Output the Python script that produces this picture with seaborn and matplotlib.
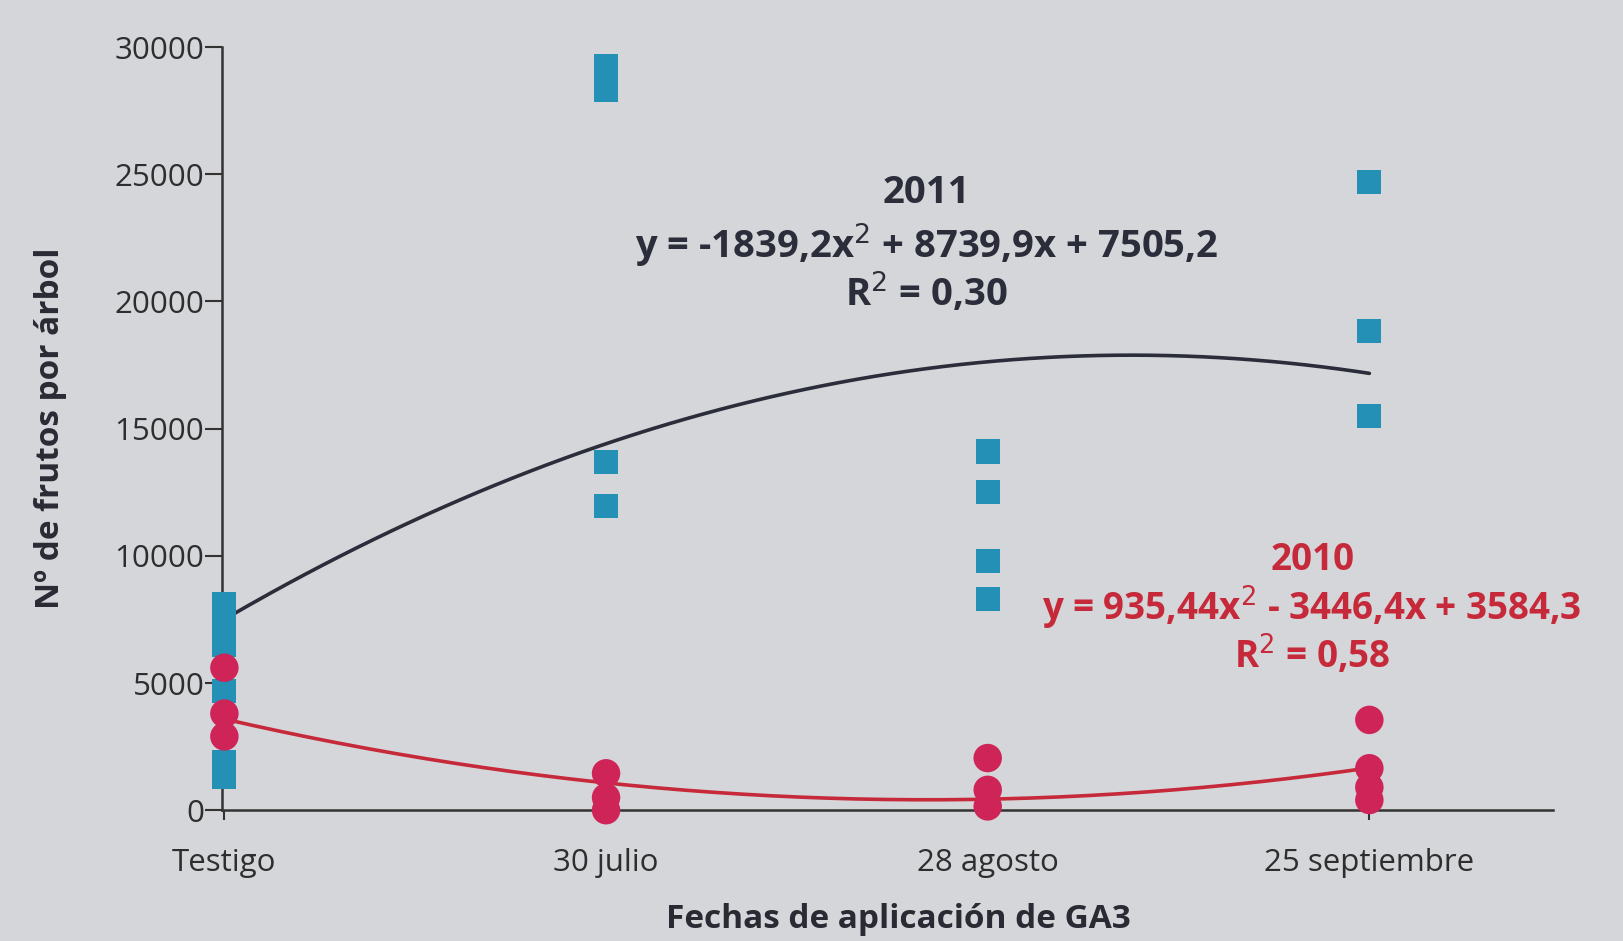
import numpy as np
import pandas as pd
import matplotlib
matplotlib.use("Agg")
import matplotlib.pyplot as plt
import seaborn as sns

# data
fechas = ["Testigo", "30 julio", "28 agosto", "25 septiembre"]

frutos_2011 = {
    "Testigo": [8100, 7300, 6500, 4700, 1900, 1300],
    "30 julio": [29250, 28300, 13700, 11950],
    "28 agosto": [14100, 12500, 9800, 8300],
    "25 septiembre": [24700, 18850, 15500],
}
frutos_2010 = {
    "Testigo": [5600, 3800, 2900],
    "30 julio": [1450, 500, 0],
    "28 agosto": [2050, 800, 150],
    "25 septiembre": [3550, 1650, 900, 400],
}

# trend line coefficients as printed on the chart
coef_2011 = [-1839.2, 8739.9, 7505.2]
coef_2010 = [935.44, -3446.4, 3584.3]
eq_2011 = ["2011", "y = -1839,2x$^2$ + 8739,9x + 7505,2", "R$^2$ = 0,30"]
eq_2010 = ["2010", "y = 935,44x$^2$ - 3446,4x + 3584,3", "R$^2$ = 0,58"]

BG = "#d5d6d9"
AZUL = "#2490b6"
ROSA = "#cf2458"
ROJO = "#c62a3a"
NEGRO = "#2b2e3a"

sns.set_theme(style="ticks")
plt.rcParams["font.family"] = ["Open Sans", "DejaVu Sans"]


def to_long(d, year):
    rows = [(fechas.index(k), v, year) for k, vals in d.items() for v in vals]
    return pd.DataFrame(rows, columns=["x", "frutos", "year"])


pts_2011 = to_long(frutos_2011, "2011")
pts_2010 = to_long(frutos_2010, "2010")

xs = np.linspace(0, 3, 200)
fit = pd.DataFrame({
    "x": np.concatenate([xs, xs]),
    "frutos": np.concatenate([np.polyval(coef_2011, xs), np.polyval(coef_2010, xs)]),
    "year": ["2011"] * len(xs) + ["2010"] * len(xs),
})

fig = plt.figure(figsize=(16.24, 9.41), dpi=100, facecolor=BG)
ax = fig.add_axes([0.137, 0.139, 0.819, 0.811])
ax.set_facecolor(BG)

sns.lineplot(data=fit, x="x", y="frutos", hue="year",
             palette={"2011": NEGRO, "2010": ROJO}, linewidth=2.6,
             legend=False, ax=ax, zorder=2)
sns.scatterplot(data=pts_2011, x="x", y="frutos", marker="s", s=300,
                color=AZUL, edgecolor="none", ax=ax, zorder=3, clip_on=False)
sns.scatterplot(data=pts_2010, x="x", y="frutos", marker="o", s=420,
                color=ROSA, edgecolor="none", ax=ax, zorder=4, clip_on=False)

ax.set_xlim(-0.005, 3.48)
ax.set_ylim(0, 30000)
ax.set_xticks(range(len(fechas)))
ax.set_xticklabels(fechas)
ax.set_yticks(range(0, 30001, 5000))
ax.tick_params(axis="both", labelsize=22.5, colors="#333333", labelcolor="#2e2e2e")
ax.tick_params(axis="y", length=12, width=1.5, pad=1)
ax.tick_params(axis="x", length=7, width=1.5, pad=20)

for s in ["top", "right"]:
    ax.spines[s].set_visible(False)
for s in ["left", "bottom"]:
    ax.spines[s].set_color("#333333")
    ax.spines[s].set_linewidth(1.8)

ax.set_xlabel("Fechas de aplicación de GA3", fontsize=24, fontweight="bold",
              color="#2a2a35")
ax.xaxis.set_label_coords(0.508, -0.122)
ax.set_ylabel("Nº de frutos por árbol", fontsize=24, fontweight="bold",
              color="#2a2a35", labelpad=34)

for txt, y in zip(eq_2011, [24250, 22200, 20300]):
    ax.text(1.84, y, txt, ha="center", va="center", fontsize=27.5,
            fontweight="bold", color=NEGRO)
for txt, y in zip(eq_2010, [9850, 7950, 6080]):
    ax.text(2.85, y, txt, ha="center", va="center", fontsize=26.5,
            fontweight="bold", color=ROJO)

fig.savefig("out.png", dpi=100, facecolor=BG)
